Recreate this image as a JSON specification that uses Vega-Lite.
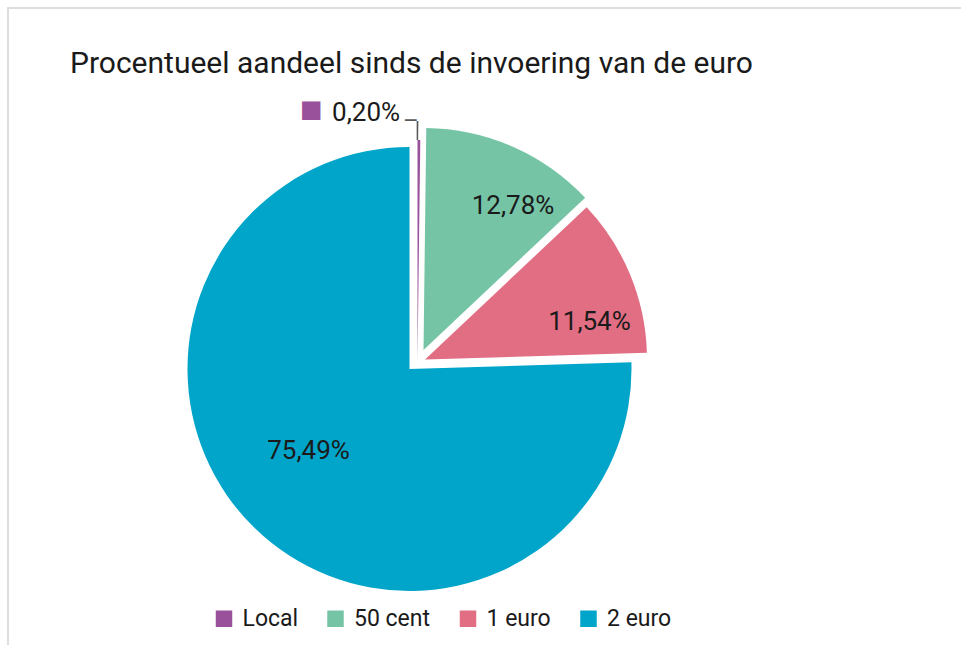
{
  "$schema": "https://vega.github.io/schema/vega-lite/v6.json",
  "width": 953,
  "height": 637,
  "autosize": {"type": "none"},
  "padding": {"left": 8, "top": 8, "right": 0, "bottom": 0},
  "background": "white",
  "view": {"stroke": "#dedede", "strokeWidth": 2, "strokeDash": [953, 1590, 637]},
  "config": {
    "view": {"stroke": "#dedede", "strokeWidth": 2, "strokeDash": [953, 1590, 637]},
    "font": "Roboto"
  },
  "title": {
    "text": "Procentueel aandeel sinds de invoering van de euro",
    "anchor": "start",
    "frame": "group",
    "orient": "top",
    "font": "Roboto",
    "fontSize": 30,
    "fontWeight": "normal",
    "color": "#1a1a1a",
    "baseline": "alphabetic",
    "offset": -64,
    "dx": 62,
    "dy": 31
  },
  "data": {
    "values": [
      {"coin": "Local", "share": 0.20, "label": "0,20%", "rank": 1},
      {"coin": "50 cent", "share": 12.78, "label": "12,78%", "rank": 2},
      {"coin": "1 euro", "share": 11.54, "label": "11,54%", "rank": 3},
      {"coin": "2 euro", "share": 75.49, "label": "75,49%", "rank": 4}
    ]
  },
  "encoding": {
    "theta": {"field": "share", "type": "quantitative", "stack": true},
    "order": {"field": "rank", "type": "quantitative"},
    "color": {
      "field": "coin",
      "type": "nominal",
      "scale": {
        "domain": ["Local", "50 cent", "1 euro", "2 euro"],
        "range": ["#99519b", "#76c4a6", "#e16e83", "#00a5c9"]
      },
      "legend": {
        "orient": "none",
        "legendX": 204.5,
        "legendY": 599,
        "direction": "horizontal",
        "title": null,
        "symbolType": "square",
        "symbolSize": 272,
        "symbolStrokeWidth": 0,
        "symbolOpacity": 1,
        "labelFont": "Roboto",
        "labelFontSize": 23,
        "labelColor": "#1a1a1a",
        "labelOffset": 7,
        "columnPadding": 25.5,
        "padding": 0
      }
    }
  },
  "layer": [
    {
      "mark": {"type": "arc", "x": 401.5, "y": 361, "radius": 222},
      "encoding": {
        "fillOpacity": {"condition": {"test": "datum.coin === '2 euro'", "value": 1}, "value": 0}
      }
    },
    {
      "mark": {"type": "arc", "x": 401.5, "y": 361, "radius": 222, "xOffset": 8, "yOffset": -7},
      "encoding": {
        "fillOpacity": {"condition": {"test": "datum.coin === 'Local'", "value": 1}, "value": 0}
      }
    },
    {
      "mark": {"type": "arc", "x": 401.5, "y": 361, "radius": 222, "xOffset": 14, "yOffset": -19},
      "encoding": {
        "fillOpacity": {"condition": {"test": "datum.coin === '50 cent'", "value": 1}, "value": 0}
      }
    },
    {
      "mark": {"type": "arc", "x": 401.5, "y": 361, "radius": 222, "xOffset": 15.5, "yOffset": -9.5},
      "encoding": {
        "fillOpacity": {"condition": {"test": "datum.coin === '1 euro'", "value": 1}, "value": 0}
      }
    },
    {
      "mark": {"type": "arc", "x": 401.5, "y": 361, "radius": 241, "radius2": 222, "padAngle": 0.004, "xOffset": 6.5, "yOffset": -7},
      "encoding": {
        "color": {"value": "#595959"},
        "detail": {"field": "coin"},
        "fillOpacity": {"condition": {"test": "datum.coin === 'Local'", "value": 1}, "value": 0}
      }
    },
    {
      "mark": {"type": "text", "x": 401.5, "y": 361, "radius": 233.6, "xOffset": 0, "yOffset": -6, "font": "Roboto", "fontSize": 24, "baseline": "alphabetic"},
      "encoding": {
        "color": {"value": "#595959"},
        "detail": {"field": "coin"},
        "text": {"condition": {"test": "datum.coin === 'Local'", "value": "–"}, "value": ""}
      }
    },
    {
      "mark": {"type": "text", "x": 401.5, "y": 361, "radius": 252, "xOffset": -99.8, "yOffset": -7.3, "font": "DejaVu Sans", "fontSize": 24},
      "encoding": {
        "color": {"value": "#99519b"},
        "detail": {"field": "coin"},
        "text": {"condition": {"test": "datum.coin === 'Local'", "value": "■"}, "value": ""}
      }
    },
    {
      "mark": {"type": "text", "x": 401.5, "y": 361, "radius": 249, "xOffset": -45, "yOffset": -7.5, "font": "Roboto", "fontSize": 26},
      "encoding": {
        "color": {"value": "#1a1a1a"},
        "detail": {"field": "coin"},
        "text": {"condition": {"test": "datum.coin === 'Local'", "field": "label"}, "value": ""}
      }
    },
    {
      "mark": {"type": "text", "x": 401.5, "y": 361, "radius": 168, "xOffset": 35.9, "yOffset": -9.2, "font": "Roboto", "fontSize": 26},
      "encoding": {
        "color": {"value": "#1a1a1a"},
        "detail": {"field": "coin"},
        "text": {"condition": {"test": "datum.coin === '50 cent'", "field": "label"}, "value": ""}
      }
    },
    {
      "mark": {"type": "text", "x": 401.5, "y": 361, "radius": 166, "xOffset": 26.6, "yOffset": 17, "font": "Roboto", "fontSize": 26},
      "encoding": {
        "color": {"value": "#1a1a1a"},
        "detail": {"field": "coin"},
        "text": {"condition": {"test": "datum.coin === '1 euro'", "field": "label"}, "value": ""}
      }
    },
    {
      "mark": {"type": "text", "x": 401.5, "y": 361, "radius": 129, "xOffset": -11.2, "yOffset": -10.6, "font": "Roboto", "fontSize": 26},
      "encoding": {
        "color": {"value": "#1a1a1a"},
        "detail": {"field": "coin"},
        "text": {"condition": {"test": "datum.coin === '2 euro'", "field": "label"}, "value": ""}
      }
    }
  ]
}
